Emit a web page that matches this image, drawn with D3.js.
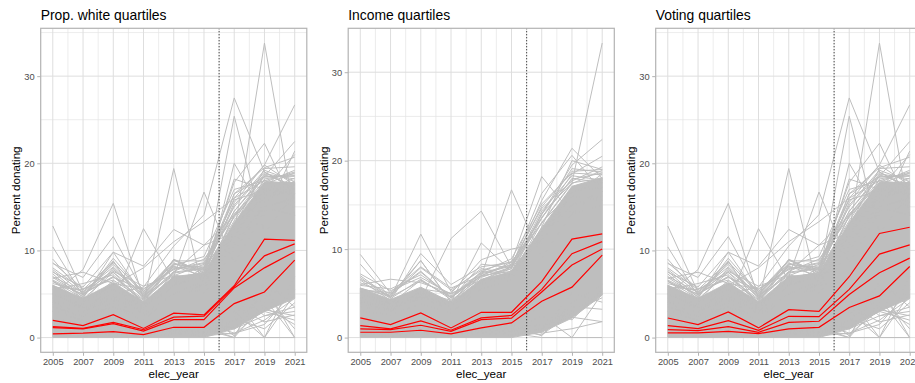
<!DOCTYPE html>
<html>
<head>
<meta charset="utf-8">
<script src="https://cdn.jsdelivr.net/npm/d3@7"></script>
<style>
  body { margin: 0; background: #fff; }
  text { font-family: "Liberation Sans", Arial, sans-serif; }
</style>
</head>
<body>
<svg id="chart" width="915" height="383"></svg>
<script>
// Election years on the x axis
const years = [2005, 2007, 2009, 2011, 2013, 2015, 2017, 2019, 2021];
const xTicks = [2005, 2007, 2009, 2011, 2013, 2015, 2017, 2019, 2021];
const yTicks = [0, 10, 20, 30];
const breakYear = 2016;

// Dense body of the county lines (lower / upper envelope per year)
const coreLowA = [0, 0, 0, 0, 0, 0, 1.0, 3.0, 4.5];
const coreTopA = [6.0, 4.5, 6.3, 4.1, 7.0, 7.4, 13.2, 17.8, 17.8];
const coreLowB = [0, 0, 0, 0, 0, 0, 0.6, 2.2, 4.8];
const coreTopB = [5.6, 4.3, 5.7, 4.0, 6.6, 7.4, 12.4, 17.1, 18.1];

// Individual county lines standing out from the body (white / voting sample)
const greyA = [
  [12.8, 5.2, 7.5, 3.8, 6.5, 6.0, 12.0, 16.5, 15.0],
  [10.4, 4.8, 8.8, 3.5, 7.0, 6.8, 11.0, 15.0, 16.0],
  [5.0, 7.8, 15.4, 4.5, 8.2, 7.0, 14.0, 17.0, 16.5],
  [8.5, 6.9, 11.6, 5.2, 8.9, 7.5, 15.5, 19.8, 17.5],
  [5.0, 3.5, 4.0, 12.5, 6.5, 6.0, 12.0, 16.0, 17.0],
  [6.5, 4.5, 9.8, 8.2, 12.4, 10.6, 14.0, 18.0, 19.0],
  [5.5, 4.0, 6.0, 4.0, 19.4, 5.0, 10.0, 15.0, 14.0],
  [6.0, 4.2, 5.5, 3.8, 7.0, 16.7, 8.5, 14.5, 15.0],
  [5.0, 4.5, 6.0, 8.0, 11.0, 13.3, 16.0, 18.0, 17.0],
  [4.5, 3.5, 5.0, 5.8, 10.5, 14.1, 27.5, 19.0, 17.0],
  [4.0, 3.0, 4.5, 3.0, 6.0, 7.0, 25.4, 12.0, 16.5],
  [3.5, 2.5, 4.0, 2.8, 5.0, 6.0, 20.0, 14.0, 21.4],
  [3.0, 2.5, 3.5, 2.5, 5.0, 5.5, 12.0, 33.8, 14.0],
  [4.0, 3.0, 5.0, 3.5, 6.0, 8.0, 17.8, 22.3, 15.0],
  [5.0, 3.8, 6.5, 3.2, 7.5, 8.0, 16.0, 19.8, 26.7],
  [3.0, 2.0, 3.5, 2.0, 5.0, 6.5, 14.0, 18.5, 22.5],
  [4.2, 3.4, 5.5, 3.6, 6.8, 7.5, 18.2, 17.0, 21.0],
  [3.8, 2.9, 4.8, 3.1, 6.2, 7.1, 16.5, 19.5, 20.7],
  [8.0, 5.5, 8.7, 5.0, 8.9, 7.2, 13.0, 16.0, 18.0],
  [7.5, 5.8, 9.8, 4.8, 8.6, 6.8, 12.5, 17.0, 15.5],
  [6.8, 7.5, 6.2, 5.6, 7.8, 8.5, 11.5, 16.8, 17.5],
  [6.5, 4.0, 8.0, 4.5, 7.5, 10.6, 12.0, 18.2, 18.8],
  [9.0, 5.0, 7.0, 4.0, 8.5, 7.8, 14.5, 18.8, 18.2],
  [5.8, 5.5, 7.6, 5.9, 7.2, 6.5, 10.5, 15.5, 17.8],
  [7.0, 5.2, 8.4, 4.6, 8.0, 8.2, 14.5, 18.5, 18.5],
  [6.6, 4.9, 7.8, 4.9, 8.8, 8.8, 15.0, 19.0, 17.2],
  [7.8, 5.1, 7.0, 4.4, 7.6, 9.0, 13.8, 17.8, 19.2],
  [6.9, 4.7, 8.6, 5.3, 8.4, 8.0, 16.5, 18.4, 18.6],
  [5.5, 6.2, 7.2, 4.1, 9.0, 7.4, 15.2, 19.2, 17.9],
  [6.4, 5.0, 6.9, 5.5, 7.9, 8.6, 14.2, 17.6, 18.9],
  [7.3, 4.4, 7.5, 4.7, 8.3, 9.3, 17.0, 18.0, 17.6],
  [8.6, 5.6, 6.6, 4.3, 7.4, 7.9, 12.8, 19.4, 19.6],
  [6.2, 5.3, 8.1, 4.8, 7.1, 8.4, 15.8, 16.9, 18.3],
  [7.6, 4.6, 9.1, 5.1, 8.1, 7.7, 13.4, 18.7, 17.4],
  [1.0, 0.8, 1.2, 0.5, 1.5, 1.2, 0.0, 4.0, 6.0],
  [0.5, 0.5, 0.8, 0.3, 0.8, 0.5, 3.0, 0.0, 5.0],
  [0.8, 0.6, 1.0, 0.4, 1.2, 0.0, 0.0, 0.0, 0.0],
  [1.5, 1.0, 2.0, 0.8, 2.0, 2.5, 2.5, 6.0, 0.0],
  [0.6, 0.4, 0.7, 0.2, 1.0, 1.0, 1.2, 3.0, 2.0],
  [0.3, 0.2, 0.5, 0.1, 0.6, 0.2, 0.5, 2.0, 4.5],
  [1.2, 0.9, 1.5, 0.6, 1.8, 1.5, 4.5, 0.0, 7.0],
  [0.9, 0.7, 1.1, 0.5, 1.4, 0.9, 0.0, 6.5, 3.5],
  [2.0, 1.5, 2.5, 1.0, 2.5, 2.0, 1.0, 3.5, 1.5],
  [0.4, 0.3, 0.6, 0.2, 0.9, 0.6, 2.0, 4.5, 0.0],
  [0.7, 0.5, 0.9, 0.4, 1.1, 0.8, 5.5, 2.5, 3.0],
  [1.8, 1.2, 2.2, 0.9, 2.2, 1.8, 0.5, 1.5, 5.5],
  [1.3, 1.0, 1.6, 0.7, 1.7, 1.4, 1.0, 2.5, 3.5],
  [0.6, 0.5, 0.9, 0.3, 0.9, 0.7, 0.4, 3.2, 2.5],
  [1.0, 0.7, 1.3, 0.6, 1.3, 1.1, 2.2, 1.0, 4.0],
  [0.2, 0.2, 0.3, 0.1, 0.4, 0.3, 1.8, 5.0, 1.0],
  [2.2, 1.6, 2.8, 1.2, 3.0, 2.8, 0.2, 5.5, 4.8],
  [1.6, 1.3, 1.9, 0.9, 2.1, 1.7, 3.6, 1.8, 2.6]
];

// Individual county lines standing out from the body (income sample)
const greyB = [
  [9.4, 5.0, 7.5, 4.5, 7.0, 7.5, 12.0, 15.0, 16.0],
  [8.3, 4.5, 8.7, 4.0, 7.5, 7.0, 11.5, 16.0, 15.5],
  [6.0, 6.6, 6.2, 5.0, 6.5, 8.0, 13.0, 16.5, 17.0],
  [7.0, 4.5, 11.7, 5.2, 7.8, 7.2, 14.0, 17.5, 18.0],
  [6.5, 4.2, 9.5, 6.0, 8.0, 8.5, 13.5, 18.0, 17.5],
  [5.5, 4.8, 8.7, 4.0, 10.7, 7.5, 12.0, 16.0, 18.5],
  [4.5, 4.0, 4.3, 11.2, 14.3, 8.0, 11.0, 15.0, 16.5],
  [5.2, 3.8, 6.5, 4.5, 7.0, 16.7, 9.0, 14.0, 15.0],
  [4.8, 4.2, 5.5, 5.0, 8.8, 10.0, 10.7, 16.5, 17.5],
  [4.0, 3.5, 5.0, 4.0, 7.0, 8.5, 18.2, 14.0, 17.0],
  [4.5, 3.6, 5.2, 4.2, 6.8, 8.0, 16.3, 20.6, 16.5],
  [3.8, 3.2, 4.6, 3.5, 6.5, 7.8, 15.5, 21.4, 18.0],
  [3.5, 3.0, 4.5, 3.2, 6.0, 7.0, 13.0, 17.5, 33.3],
  [4.2, 3.3, 5.0, 3.8, 6.4, 7.5, 14.0, 19.5, 22.4],
  [3.9, 3.1, 4.8, 3.6, 6.2, 7.3, 13.5, 18.5, 20.5],
  [3.0, 2.6, 3.8, 2.8, 5.5, 6.5, 12.5, 20.0, 19.0],
  [5.6, 4.6, 6.4, 4.6, 7.3, 8.2, 14.8, 18.8, 19.0],
  [6.6, 4.9, 7.4, 4.5, 7.2, 8.1, 13.6, 17.9, 18.6],
  [7.2, 5.3, 6.8, 4.9, 6.9, 7.8, 14.3, 18.3, 17.8],
  [6.2, 4.7, 7.9, 5.4, 7.6, 8.6, 12.9, 17.4, 18.9],
  [5.9, 5.5, 7.1, 4.7, 7.4, 8.9, 15.1, 18.6, 18.4],
  [6.8, 4.4, 6.6, 4.3, 8.3, 7.9, 13.9, 19.1, 18.7],
  [5.4, 5.1, 8.0, 5.6, 7.0, 8.3, 14.6, 17.7, 19.3],
  [0.5, 0.4, 0.6, 0.3, 0.7, 0.5, 0.0, 0.0, 0.0],
  [0.8, 0.6, 1.0, 0.4, 1.2, 1.0, 1.5, 2.3, 1.8],
  [1.0, 0.8, 1.2, 0.5, 1.5, 1.3, 0.5, 1.0, 1.8],
  [0.6, 0.5, 0.8, 0.3, 0.9, 0.7, 2.5, 0.0, 5.0],
  [1.2, 0.9, 1.4, 0.6, 1.6, 1.4, 0.2, 4.0, 6.0],
  [0.3, 0.2, 0.4, 0.2, 0.5, 0.3, 1.0, 3.0, 4.5],
  [1.5, 1.1, 1.8, 0.8, 2.0, 1.8, 3.5, 2.0, 5.5],
  [0.9, 0.7, 1.1, 0.5, 1.3, 0.9, 0.8, 5.0, 4.0],
  [1.4, 1.0, 1.6, 0.7, 1.8, 1.5, 1.2, 3.5, 3.2],
  [0.7, 0.5, 0.9, 0.4, 1.0, 0.8, 0.3, 2.8, 5.2]
];

// Quartile means (red)
const redWhite = [
  [1.98, 1.37, 2.63, 1.05, 2.80, 2.60, 5.95, 11.30, 11.15],
  [1.25, 1.05, 1.75, 0.90, 2.35, 2.45, 5.85, 9.38, 10.75],
  [1.14, 1.00, 1.60, 0.75, 2.05, 2.06, 5.70, 8.00, 9.85],
  [0.42, 0.50, 0.69, 0.34, 1.18, 1.18, 3.90, 5.23, 8.88]
];
const redIncome = [
  [2.22, 1.47, 2.79, 1.09, 2.86, 2.86, 6.33, 11.14, 11.72],
  [1.35, 0.98, 1.88, 0.83, 2.22, 2.50, 5.45, 9.48, 10.85],
  [0.98, 0.90, 1.39, 0.71, 2.03, 2.20, 5.15, 8.20, 10.02],
  [0.60, 0.60, 0.83, 0.41, 1.09, 1.66, 4.10, 5.70, 9.33]
];
const redVoting = [
  [2.25, 1.49, 2.94, 1.11, 3.20, 3.01, 6.98, 11.95, 12.66],
  [1.37, 1.03, 1.95, 0.84, 2.44, 2.40, 5.53, 9.58, 10.64],
  [0.92, 0.80, 1.26, 0.61, 1.75, 1.87, 4.95, 7.45, 9.12],
  [0.53, 0.53, 0.72, 0.46, 0.99, 1.18, 3.45, 4.78, 8.16]
];

const titles = ["Prop. white quartiles", "Income quartiles", "Voting quartiles"];
const coreLows = [coreLowA, coreLowB, coreLowA];
const coreTops = [coreTopA, coreTopB, coreTopA];
const greys = [greyA, greyB, greyA];
const reds = [redWhite, redIncome, redVoting];

// Layout
const blockW = 307.5, plotOffset = 40.7, plotW = 266.1;
const plotTop = 28.3, plotBottom = 352.3;

const svg = d3.select("#chart");

titles.forEach((title, i) => {
  const left = i * blockW + plotOffset;
  const right = left + plotW;
  const g = svg.append("g");

  const allVals = greys[i].flat().concat(coreTops[i], reds[i].flat());
  const yMin = 0, yMax = d3.max(allVals);
  const yPad = (yMax - yMin) * 0.05;
  const xPad = (d3.max(years) - d3.min(years)) * 0.05;

  const x = d3.scaleLinear().domain([d3.min(years) - xPad, d3.max(years) + xPad]).range([left, right]);
  const y = d3.scaleLinear().domain([yMin - yPad, yMax + yPad]).range([plotBottom, plotTop]);

  const clipId = "clip" + i;
  svg.append("clipPath").attr("id", clipId)
    .append("rect").attr("x", left).attr("y", plotTop).attr("width", plotW).attr("height", plotBottom - plotTop);

  // minor grid
  const minorX = d3.range(2004, 2022, 2).filter(v => v > x.domain()[0] && v < x.domain()[1]);
  const minorY = [5, 15, 25, 35].filter(v => v < y.domain()[1]);
  g.selectAll(".mx").data(minorX).join("line")
    .attr("x1", d => x(d)).attr("x2", d => x(d)).attr("y1", plotTop).attr("y2", plotBottom)
    .attr("stroke", "#e4e4e4").attr("stroke-width", 0.7);
  g.selectAll(".my").data(minorY).join("line")
    .attr("x1", left).attr("x2", right).attr("y1", d => y(d)).attr("y2", d => y(d))
    .attr("stroke", "#e4e4e4").attr("stroke-width", 0.7);
  // major grid
  g.selectAll(".gx").data(xTicks).join("line")
    .attr("x1", d => x(d)).attr("x2", d => x(d)).attr("y1", plotTop).attr("y2", plotBottom)
    .attr("stroke", "#dedede").attr("stroke-width", 1);
  g.selectAll(".gy").data(yTicks).join("line")
    .attr("x1", left).attr("x2", right).attr("y1", d => y(d)).attr("y2", d => y(d))
    .attr("stroke", "#dedede").attr("stroke-width", 1);

  const plot = g.append("g").attr("clip-path", `url(#${clipId})`);

  // dense body of county lines
  const area = d3.area()
    .x((d, j) => x(years[j]))
    .y0((d, j) => y(coreLows[i][j]))
    .y1(d => y(d));
  plot.append("path").datum(coreTops[i]).attr("d", area)
    .attr("fill", "#bebebe").attr("stroke", "#bebebe").attr("stroke-width", 1);

  const line = d3.line().x((d, j) => x(years[j])).y(d => y(d));
  plot.selectAll(".grey").data(greys[i]).join("path")
    .attr("d", line).attr("fill", "none")
    .attr("stroke", "#bebebe").attr("stroke-width", 1);

  // 2016 marker
  plot.append("line")
    .attr("x1", x(breakYear)).attr("x2", x(breakYear)).attr("y1", plotTop).attr("y2", plotBottom)
    .attr("stroke", "#222").attr("stroke-width", 1.1).attr("stroke-dasharray", "1,2");

  plot.selectAll(".red").data(reds[i]).join("path")
    .attr("d", line).attr("fill", "none")
    .attr("stroke", "#ff0000").attr("stroke-width", 1.2);

  // panel border
  g.append("rect").attr("x", left).attr("y", plotTop).attr("width", plotW).attr("height", plotBottom - plotTop)
    .attr("fill", "none").attr("stroke", "#b3b3b3").attr("stroke-width", 1.2);

  // axes
  const xAxis = d3.axisBottom(x).tickValues(xTicks).tickFormat(d3.format("d")).tickSize(3.5).tickPadding(2.5);
  const gx = g.append("g").attr("transform", `translate(0,${plotBottom})`).call(xAxis);
  const yAxis = d3.axisLeft(y).tickValues(yTicks).tickSize(3.5).tickPadding(2.5);
  const gy = g.append("g").attr("transform", `translate(${left},0)`).call(yAxis);
  [gx, gy].forEach(a => {
    a.select(".domain").remove();
    a.selectAll(".tick line").attr("stroke", "#b3b3b3").attr("stroke-width", 1);
    a.selectAll(".tick text").attr("fill", "#4d4d4d").style("font-size", "9.3px")
      .style("font-family", '"Liberation Sans", Arial, sans-serif');
  });

  // titles
  g.append("text").attr("x", left).attr("y", 19.5).text(title)
    .style("font-size", "13.9px").attr("fill", "#000");
  g.append("text").attr("x", (left + right) / 2).attr("y", 377.5).attr("text-anchor", "middle")
    .text("elec_year").style("font-size", "11.6px").attr("fill", "#000");
  g.append("text").attr("transform", `translate(${left - 20.5},${(plotTop + plotBottom) / 2}) rotate(-90)`)
    .attr("text-anchor", "middle").text("Percent donating").style("font-size", "11.6px").attr("fill", "#000");
});
</script>
</body>
</html>
